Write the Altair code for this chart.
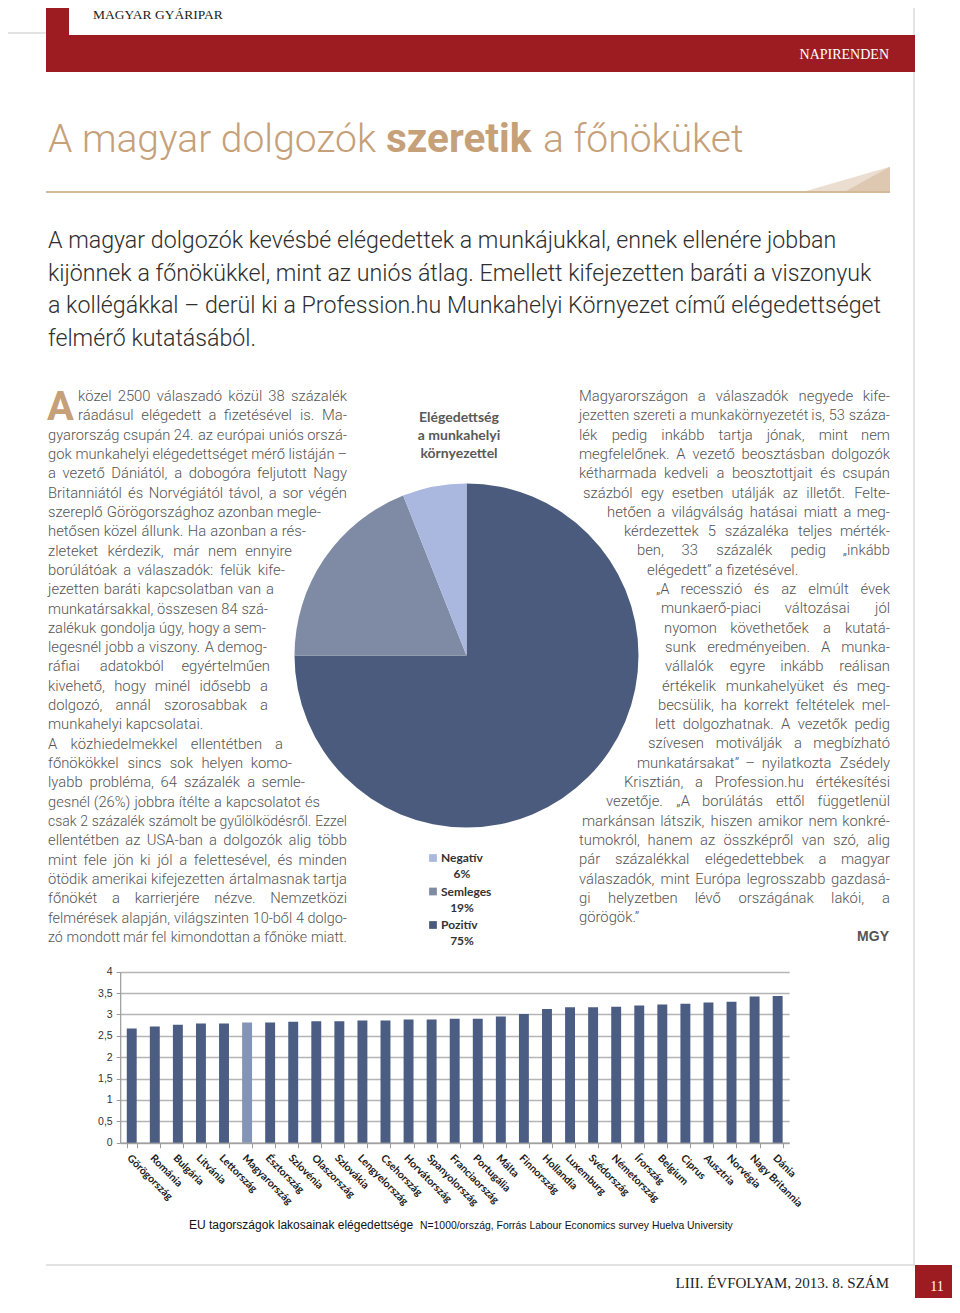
import json
import unicodedata
import altair as alt
import pandas as pd

# ---------------- chart data ----------------
countries = ["Görögország", "Románia", "Bulgária", "Litvánia", "Lettország",
             "Magyarország", "Észtország", "Szlovénia", "Olaszország", "Szlovákia",
             "Lengyelország", "Csehország", "Horvátország", "Spanyolország",
             "Franciaország", "Portugália", "Málta", "Finnország", "Hollandia",
             "Luxemburg", "Svédország", "Németország", "Írország", "Belgium",
             "Ciprus", "Ausztria", "Norvégia", "Nagy Britannia", "Dánia"]
scores = [2.67, 2.72, 2.76, 2.79, 2.79, 2.81, 2.81, 2.83, 2.84, 2.84,
          2.86, 2.86, 2.88, 2.88, 2.90, 2.90, 2.95, 3.01, 3.13, 3.17,
          3.17, 3.18, 3.21, 3.23, 3.25, 3.28, 3.30, 3.42, 3.43]
highlight = "Magyarország"
y_ticks = [0, 0.5, 1, 1.5, 2, 2.5, 3, 3.5, 4]

pie_labels = ["Pozitív", "Semleges", "Negatív"]
pie_values = [75, 19, 6]
legend_order = ["Negatív", "Semleges", "Pozitív"]

# ---------------- texts ----------------
header_left = "MAGYAR GYÁRIPAR"
header_right = "NAPIRENDEN"
title_parts = ["A magyar dolgozók", "szeretik", "a főnöküket"]
intro_lines = [
    "A magyar dolgozók kevésbé elégedettek a munkájukkal, ennek ellenére jobban",
    "kijönnek a főnökükkel, mint az uniós átlag. Emellett kifejezetten baráti a viszonyuk",
    "a kollégákkal – derül ki a Profession.hu Munkahelyi Környezet című elégedettséget",
    "felmérő kutatásából.",
]
drop_cap = "A"
left_lines = [
    "közel 2500 válaszadó közül 38 százalék",
    "ráadásul elégedett a fizetésével is. Ma-",
    "gyarország csupán 24. az európai uniós orszá-",
    "gok munkahelyi elégedettséget mérő listáján –",
    "a vezető Dániától, a dobogóra feljutott Nagy",
    "Britanniától és Norvégiától távol, a sor végén",
    "szereplő Görögországhoz azonban megle-",
    "hetősen közel állunk. Ha azonban a rés-",
    "zleteket kérdezik, már nem ennyire",
    "borúlátóak a válaszadók: felük kife-",
    "jezetten baráti kapcsolatban van a",
    "munkatársakkal, összesen 84 szá-",
    "zalékuk gondolja úgy, hogy a sem-",
    "legesnél jobb a viszony. A demog-",
    "ráfiai adatokból egyértelműen",
    "kivehető, hogy minél idősebb a",
    "dolgozó, annál szorosabbak a",
    "munkahelyi kapcsolatai.",
    "A közhiedelmekkel ellentétben a",
    "főnökökkel sincs sok helyen komo-",
    "lyabb probléma, 64 százalék a semle-",
    "gesnél (26%) jobbra ítélte a kapcsolatot és",
    "csak 2 százalék számolt be gyűlölködésről. Ezzel",
    "ellentétben az USA-ban a dolgozók alig több",
    "mint fele jön ki jól a felettesével, és minden",
    "ötödik amerikai kifejezetten ártalmasnak tartja",
    "főnökét a karrierjére nézve. Nemzetközi",
    "felmérések alapján, világszinten 10-ből 4 dolgo-",
    "zó mondott már fel kimondottan a főnöke miatt.",
]
right_lines = [
    "Magyarországon a válaszadók negyede kife-",
    "jezetten szereti a munkakörnyezetét is, 53 száza-",
    "lék pedig inkább tartja jónak, mint nem",
    "megfelelőnek. A vezető beosztásban dolgozók",
    "kétharmada kedveli a beosztottjait és csupán",
    "százból egy esetben utálják az illetőt. Felte-",
    "hetően a világválság hatásai miatt a meg-",
    "kérdezettek 5 százaléka teljes mérték-",
    "ben, 33 százalék pedig „inkább",
    "elégedett” a fizetésével.",
    "„A recesszió és az elmúlt évek",
    "munkaerő-piaci változásai jól",
    "nyomon követhetőek a kutatá-",
    "sunk eredményeiben. A munka-",
    "vállalók egyre inkább reálisan",
    "értékelik munkahelyüket és meg-",
    "becsülik, ha korrekt feltételek mel-",
    "lett dolgozhatnak. A vezetők pedig",
    "szívesen motiválják a megbízható",
    "munkatársakat” – nyilatkozta Zsédely",
    "Krisztián, a Profession.hu értékesítési",
    "vezetője. „A borúlátás ettől függetlenül",
    "markánsan látszik, hiszen amikor nem konkré-",
    "tumokról, hanem az összképről van szó, alig",
    "pár százalékkal elégedettebbek a magyar",
    "válaszadók, mint Európa legrosszabb gazdasá-",
    "gi helyzetben lévő országának lakói, a",
    "görögök.”",
]
signature = "MGY"
pie_title = ["Elégedettség", "a munkahelyi", "környezettel"]
caption_main = "EU tagországok lakosainak elégedettsége"
caption_src = "N=1000/ország, Forrás Labour Economics survey Huelva University"
footer_text = "LIII. ÉVFOLYAM, 2013. 8. SZÁM"
page_no = "11"

# ---------------- layout & style ----------------
W, H = 944, 1290


def px(v):
    """page coordinate -> chart coordinate (8px body margin)"""
    return v - 8


RED = "#9d1c22"
TAN = "#c6a079"
BODY = "Roboto"
SERIF = "Liberation Serif"
BAR_DARK = "#4b5d82"
BAR_LIGHT = "#8494b6"
color_scale = alt.Scale(domain=pie_labels, range=["#4b5b7d", "#7f8ba5", "#aab8df"])

# column geometry (page px): line starts and justified right edges (None = ragged)
left_x0 = [78, 78] + [48] * (len(left_lines) - 2)
left_x1 = [347, 347, 347, 347, 347, 347, 321, 306, 292, 285, 274, 268, 266, 267,
           270, 268, 268, None, 283, 292, 305, 320, 347, 347, 347, 347, 347, 347, 347]
right_x0 = [579, 579, 579, 579, 579, 583, 607, 624, 637, 647, 656, 661, 664, 665,
            665, 662, 658, 655, 648, 637, 624, 606, 582, 579, 579, 579, 579, 579]
right_x1 = [890] * 9 + [None] + [890] * 17 + [None]

# approximate advance widths of Roboto (em units) used to justify lines
_ADV = {
    "a": .544, "b": .548, "c": .510, "d": .550, "e": .517, "f": .340, "g": .548,
    "h": .538, "i": .237, "j": .233, "k": .495, "l": .237, "m": .856, "n": .539,
    "o": .556, "p": .548, "q": .551, "r": .331, "s": .503, "t": .319, "u": .538,
    "v": .473, "w": .733, "x": .484, "y": .462, "z": .484,
    "A": .652, "B": .622, "C": .651, "D": .656, "E": .568, "F": .553, "G": .681,
    "H": .712, "I": .272, "K": .626, "L": .540, "M": .873, "N": .712, "O": .687,
    "P": .631, "R": .615, "S": .594, "T": .597, "U": .647, "V": .636, "Z": .599,
    ".": .257, ",": .192, ":": .236, "-": .270, "–": .560, "(": .334, ")": .340,
    "%": .715, "„": .200, "”": .200, "\"": .280,
}


def adv(ch):
    if ch.isdigit():
        return .561
    base = unicodedata.normalize("NFD", ch)[0]
    return _ADV.get(base, .55)


def em_width(word):
    return sum(adv(c) for c in word)


def justify(lines, x0s, x1s, y0, lh, fs_max, min_gap=0.26):
    """split justified lines into words; returns (left-aligned, right-aligned) records"""
    lrec, rrec = [], []
    for i, (line, x0, x1) in enumerate(zip(lines, x0s, x1s)):
        y = px(y0 + i * lh)
        words = line.split(" ")
        if x1 is None or len(words) == 1:
            lrec.append({"t": line, "x": px(x0), "y": y, "fs": fs_max})
            continue
        ems = [em_width(w) for w in words]
        n_gaps = len(words) - 1
        fs = min(fs_max, (x1 - x0) / (sum(ems) + n_gaps * min_gap))
        widths = [e * fs for e in ems]
        gap = (x1 - x0 - sum(widths)) / n_gaps
        x = x0
        for w, wd in zip(words[:-1], widths[:-1]):
            lrec.append({"t": w, "x": px(x), "y": y, "fs": fs})
            x += wd + gap
        rrec.append({"t": words[-1], "x": px(x1), "y": y, "fs": fs})
    return pd.DataFrame(lrec), pd.DataFrame(rrec)


one = pd.DataFrame({"a": [0]})


def rect(x1, y1, x2, y2, color, opacity=1.0):
    return alt.Chart(one).mark_rect(color=color, opacity=opacity).encode(
        x=alt.value(px(x1)), x2=alt.value(px(x2)),
        y=alt.value(px(y1)), y2=alt.value(px(y2)))


def hline(x1, x2, y, color, width=1.0):
    return alt.Chart(one).mark_rule(color=color, strokeWidth=width).encode(
        x=alt.value(px(x1)), x2=alt.value(px(x2)), y=alt.value(px(y)))


def vline(x, y1, y2, color, width=1.0):
    return alt.Chart(one).mark_rule(color=color, strokeWidth=width).encode(
        x=alt.value(px(x)), y=alt.value(px(y1)), y2=alt.value(px(y2)))


def text_df(df, size, color, weight="normal", font=BODY, align="left", baseline="middle"):
    enc = dict(x=alt.X("x:Q", scale=None, axis=None),
               y=alt.Y("y:Q", scale=None, axis=None),
               text="t:N")
    if "fs" in df.columns:
        enc["size"] = alt.Size("fs:Q", scale=None, legend=None)
    return alt.Chart(df).mark_text(
        align=align, baseline=baseline, font=font, fontSize=size,
        fontWeight=weight, color=color).encode(**enc)


def text_block(lines, xs, y0, lh, size, color, **kw):
    df = pd.DataFrame({
        "t": lines,
        "x": [px(v) for v in xs],
        "y": [px(y0 + i * lh) for i in range(len(lines))],
    })
    return text_df(df, size, color, **kw)


layers = []

# page decoration
layers += [
    vline(914, 0, 1265, "#c8c8c8", 1),
    hline(0, 46, 33, "#c8c8c8", 1),
    rect(46, 0, 69, 72, RED),
    rect(46, 35, 915, 72, RED),
    hline(46, 890, 192, TAN, 1.5),
    hline(46, 915, 1265, "#c8c8c8", 1),
    rect(915, 1265, 960, 1313, RED),
]
tri_big = "M -1 0 L 1 0 L 1 -0.58 Z"
tri_small = "M -1 0 L 1 0 L 1 -1.1 Z"
layers += [
    alt.Chart(one).mark_point(shape=tri_big, filled=True, color=TAN, opacity=0.35,
                              size=84 * 84).encode(x=alt.value(px(848)), y=alt.value(px(191))),
    alt.Chart(one).mark_point(shape=tri_small, filled=True, color=TAN, opacity=0.35,
                              size=44 * 44).encode(x=alt.value(px(868)), y=alt.value(px(191))),
]

FS = 14.8
left_l, left_r = justify(left_lines, left_x0, left_x1, 397, 19.32, FS)
right_l, right_r = justify(right_lines, right_x0, right_x1, 397, 19.3, FS)
BODY_COLOR = "#555555"

layers += [
    text_block([header_left], [93], 15, 0, 13.5, "#222222", font=SERIF),
    text_block([header_right], [889], 55, 0, 14, "white", font=SERIF, align="right"),
    text_block([title_parts[0]], [48], 152, 0, 39, TAN, weight=300, baseline="alphabetic"),
    text_block([title_parts[1]], [386], 152, 0, 40.5, TAN, weight="bold", baseline="alphabetic"),
    text_block([title_parts[2]], [543], 152, 0, 39, TAN, weight=300, baseline="alphabetic"),
    text_block(intro_lines, [48] * len(intro_lines), 241, 32.7, 23.2, "#2e2e2e", weight=300),
    text_block([drop_cap], [47], 420, 0, 40, TAN, weight="bold", baseline="alphabetic"),
    text_df(left_l, FS, BODY_COLOR, weight=300),
    text_df(left_r, FS, BODY_COLOR, weight=300, align="right"),
    text_df(right_l, FS, BODY_COLOR, weight=300),
    text_df(right_r, FS, BODY_COLOR, weight=300, align="right"),
    text_block([signature], [889], 937, 0, 14, BODY_COLOR, weight="bold",
               font="Liberation Sans", align="right"),
    text_block(pie_title, [459] * 3, 418, 18, 14, "#595959", weight="bold",
               font="Lato", align="center"),
    text_block([footer_text], [889], 1283, 0, 15, "#222222", font=SERIF, align="right"),
    text_block([page_no], [937], 1287, 0, 14, "white", font=SERIF, align="center"),
    text_block([caption_main], [189], 1225, 0, 12, "#111111", font="Liberation Sans"),
    text_block([caption_src], [420], 1226, 0, 10.4, "#111111", font="Liberation Sans"),
]

# pie chart
pie_df = pd.DataFrame({"cat": pie_labels, "val": pie_values, "ord": list(range(len(pie_labels)))})
pie = alt.Chart(pie_df).mark_arc(outerRadius=172).encode(
    theta=alt.Theta("val:Q", stack=True),
    order=alt.Order("ord:Q"),
    color=alt.Color("cat:N", scale=color_scale, legend=None),
    x=alt.value(px(466.5)), y=alt.value(px(655.5)),
)
layers.append(pie)

# legend under the pie
leg_base = alt.Chart(pie_df).transform_calculate(
    r=f"indexof({json.dumps(legend_order, ensure_ascii=False)}, datum.cat)"
).transform_calculate(
    ly=f"{px(858)} + datum.r * 33.5",
    ly2=f"{px(874)} + datum.r * 33.5",
    pct="datum.val + '%'",
)
layers += [
    leg_base.mark_square(size=60, opacity=1).encode(
        x=alt.value(px(433)),
        y=alt.Y("ly:Q", scale=None, axis=None),
        color=alt.Color("cat:N", scale=color_scale, legend=None)),
    leg_base.mark_text(align="left", baseline="middle", font="Lato", fontSize=12,
                       fontWeight="bold", color="#333333").encode(
        x=alt.value(px(441)), y=alt.Y("ly:Q", scale=None, axis=None), text="cat:N"),
    leg_base.mark_text(align="center", baseline="middle", font="Lato", fontSize=12,
                       fontWeight="bold", color="#333333").encode(
        x=alt.value(px(462)), y=alt.Y("ly2:Q", scale=None, axis=None), text="pct:N"),
]

# bar chart
bar_df = pd.DataFrame({"country": countries, "score": scores})
bars = alt.Chart(bar_df).mark_bar().encode(
    x=alt.X("country:N", sort=None, title=None,
            scale=alt.Scale(range=[px(120.2), px(789.2)], paddingInner=0.57, paddingOuter=0.285),
            axis=alt.Axis(orient="bottom", offset=-(H - px(1142.7)), labelAngle=45,
                          labelAlign="left", labelBaseline="top", labelPadding=5,
                          labelFont="Lato", labelFontSize=10.5, labelFontWeight="bold",
                          labelColor="#1a1a1a", tickBand="extent", tickSize=5,
                          tickColor="#9a9a9a", domainColor="#9a9a9a", domainWidth=1.2,
                          grid=False, labelOverlap=False)),
    y=alt.Y("score:Q", title=None,
            scale=alt.Scale(domain=[0, 4], range=[px(1142.7), px(971.7)], nice=False, zero=True),
            axis=alt.Axis(orient="left", offset=-px(120.2), values=y_ticks,
                          labelExpr="replace(format(datum.value, '~g'), '.', ',')",
                          labelFont="Liberation Sans", labelFontSize=10.5, labelColor="#333333",
                          labelPadding=4, tickSize=4, tickColor="#9a9a9a",
                          domainColor="#9a9a9a", domainWidth=1.2,
                          grid=True, gridColor="#b5b5b5", gridWidth=1.5)),
    color=alt.condition(alt.datum.country == highlight, alt.value(BAR_LIGHT), alt.value(BAR_DARK)),
)
layers.append(bars)

chart = alt.layer(*layers).resolve_scale(
    x="independent", y="independent", size="independent"
).properties(
    width=W, height=H, padding=0, autosize=alt.AutoSizeParams(type="none"),
    background="white",
).configure_view(strokeWidth=0)

chart.save("out.html", embed_options={"renderer": "svg", "actions": False})
